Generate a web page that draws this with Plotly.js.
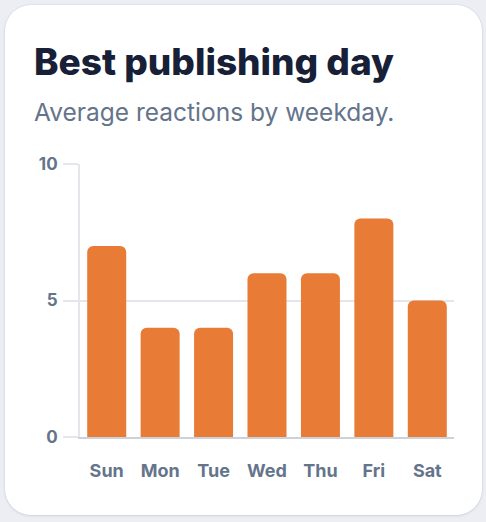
<!DOCTYPE html>
<html>
<head>
<meta charset="utf-8">
<script src="https://cdn.plot.ly/plotly-3.0.1.min.js"></script>
<style>
  html, body { margin: 0; padding: 0; background: #eceef4; width: 486px; height: 522px; overflow: hidden; }
  #card { position: absolute; left: 5px; top: 5px; width: 477px; height: 510px; background: #ffffff;
          border-radius: 26px; box-shadow: 0 1px 3px rgba(30,40,70,0.10), 0 0 0 1px rgba(220,224,236,0.6); overflow: hidden; }
  #chart { width: 477px; height: 510px; }
</style>
</head>
<body>
<div id="card"><div id="chart"></div></div>
<script>
const days = ["Sun", "Mon", "Tue", "Wed", "Thu", "Fri", "Sat"];
const reactions = [7, 4, 4, 6, 6, 8, 5];
const yTicks = [0, 5, 10];
const titleText = "Best publishing day";
const subtitleText = "Average reactions by weekday.";

const trace = {
  type: "bar",
  x: days,
  y: reactions,
  marker: { color: "#e87c37", cornerradius: 6 },
  hoverinfo: "x+y"
};

const layout = {
  width: 477,
  height: 510,
  margin: { l: 75, r: 28, t: 159, b: 78 },
  paper_bgcolor: "rgba(0,0,0,0)",
  plot_bgcolor: "rgba(0,0,0,0)",
  bargap: 0.27,
  showlegend: false,
  font: { family: "Inter, 'Open Sans', sans-serif", color: "#64748b" },
  annotations: [
    {
      text: titleText,
      xref: "paper", yref: "paper",
      x: -0.1283, xanchor: "left",
      y: 1.377, yanchor: "middle",
      showarrow: false,
      font: { family: "Inter, sans-serif", size: 37, color: "#172036", weight: 800 }
    },
    {
      text: subtitleText,
      xref: "paper", yref: "paper",
      x: -0.1283, xanchor: "left",
      y: 1.191, yanchor: "middle",
      showarrow: false,
      font: { family: "Inter, sans-serif", size: 24.5, color: "#64748b" }
    }
  ],
  xaxis: {
    type: "category",
    showgrid: false,
    showline: true,
    linecolor: "#cdd1d9",
    linewidth: 2,
    ticks: "",
    tickfont: { size: 18, color: "#64748b", weight: 700 },
    ticklabelstandoff: 16,
    fixedrange: true
  },
  yaxis: {
    range: [0, 10],
    tickvals: yTicks,
    ticktext: yTicks.map(String),
    showgrid: true,
    gridcolor: "#e4e6eb",
    gridwidth: 2,
    zeroline: false,
    showline: true,
    linecolor: "#e4e6eb",
    linewidth: 2,
    ticks: "outside",
    ticklen: 15,
    tickwidth: 2,
    tickcolor: "#e4e6eb",
    tickfont: { size: 17, color: "#64748b", weight: 700 },
    ticklabelstandoff: 2,
    fixedrange: true
  }
};

Plotly.newPlot("chart", [trace], layout, { displayModeBar: false, staticPlot: true });
</script>
</body>
</html>
